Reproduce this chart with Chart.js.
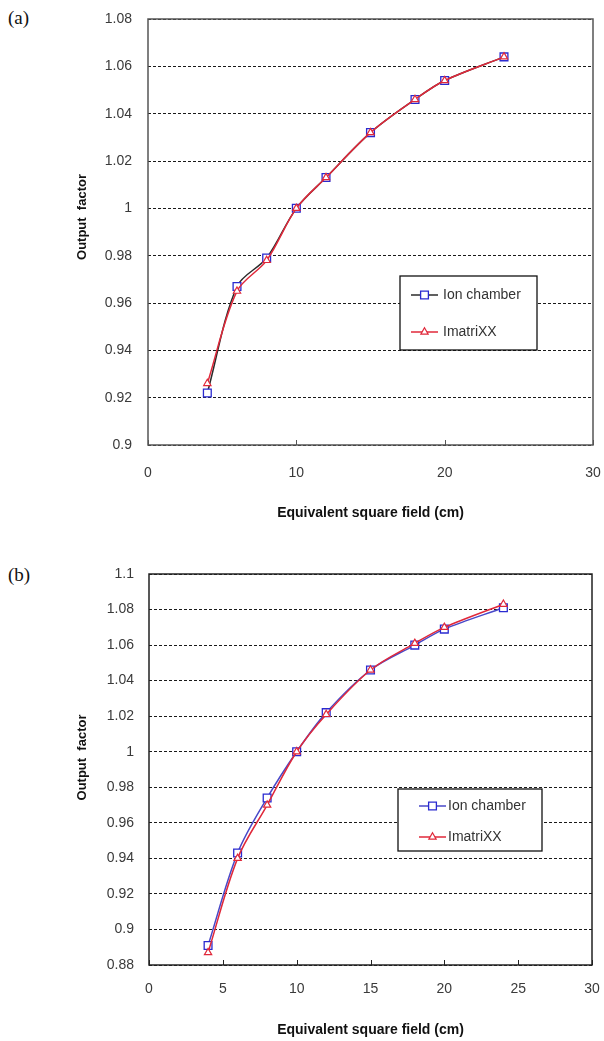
<!DOCTYPE html>
<html>
<head>
<meta charset="utf-8">
<script src="https://cdn.jsdelivr.net/npm/chart.js@4"></script>
<style>
  html, body { margin: 0; padding: 0; background: #fff; }
  body { width: 604px; height: 1041px; position: relative; overflow: hidden; }
  canvas { position: absolute; left: 0; }
  .panel { position: absolute; font-family: "Liberation Serif", "Times New Roman", serif; font-size: 19px; color: #111; }
</style>
</head>
<body>
<div class="panel" style="left:8px; top:7px;">(a)</div>
<div class="panel" style="left:8px; top:564px;">(b)</div>
<canvas id="chartA" width="604" height="540" style="top:0px;width:604px;height:540px;"></canvas>
<canvas id="chartB" width="604" height="496" style="top:545px;width:604px;height:496px;"></canvas>
<script>
// ---- data (a) ----
const fieldA = [4, 6, 8, 10, 12, 15, 18, 20, 24];
const ionChamberA = [0.922, 0.967, 0.979, 1.000, 1.013, 1.032, 1.046, 1.054, 1.064];
const imatrixxA   = [0.926, 0.965, 0.978, 1.000, 1.013, 1.032, 1.046, 1.054, 1.064];
const yTicksA = [0.9, 0.92, 0.94, 0.96, 0.98, 1, 1.02, 1.04, 1.06, 1.08];
const yLabelsA = ['0.9', '0.92', '0.94', '0.96', '0.98', '1', '1.02', '1.04', '1.06', '1.08'];
const xTicksA = [0, 10, 20, 30];

// ---- data (b) ----
const fieldB = [4, 6, 8, 10, 12, 15, 18, 20, 24];
const ionChamberB = [0.891, 0.943, 0.974, 1.000, 1.022, 1.046, 1.060, 1.069, 1.081];
const imatrixxB   = [0.887, 0.940, 0.970, 1.000, 1.021, 1.046, 1.061, 1.070, 1.083];
const yTicksB = [0.88, 0.9, 0.92, 0.94, 0.96, 0.98, 1, 1.02, 1.04, 1.06, 1.08, 1.1];
const yLabelsB = ['0.88', '0.9', '0.92', '0.94', '0.96', '0.98', '1', '1.02', '1.04', '1.06', '1.08', '1.1'];
const xTicksB = [0, 5, 10, 15, 20, 25, 30];

const seriesNames = ['Ion chamber', 'ImatriXX'];
const xTitle = 'Equivalent square field (cm)';
const yTitle = 'Output  factor';

const FONT = '"Liberation Sans", Arial, sans-serif';

function pts(xs, ys) { return xs.map((x, i) => ({ x: x, y: ys[i] })); }

// frame, inward ticks, y title and legend
const decorPlugin = {
  id: 'decor',
  afterDraw(chart, args, opts) {
    const ctx = chart.ctx;
    const a = chart.chartArea;
    const xs = chart.scales.x;
    ctx.save();
    // inward tick marks on the x axis
    ctx.strokeStyle = opts.frameColor;
    ctx.lineWidth = 1;
    xs.ticks.forEach(t => {
      const px = Math.round(xs.getPixelForValue(t.value)) + 0.5;
      ctx.beginPath();
      ctx.moveTo(px, a.bottom);
      ctx.lineTo(px, a.bottom - 5);
      ctx.stroke();
    });
    // frame
    ctx.lineWidth = 1.5;
    ctx.strokeRect(a.left, a.top, a.right - a.left, a.bottom - a.top);
    // y axis title
    ctx.save();
    ctx.translate(opts.yTitleX, (a.top + a.bottom) / 2 + opts.yTitleShift);
    ctx.rotate(-Math.PI / 2);
    ctx.font = 'bold 13px ' + FONT;
    ctx.fillStyle = '#111';
    ctx.textAlign = 'center';
    ctx.textBaseline = 'middle';
    ctx.fillText(yTitle, 0, 0);
    ctx.restore();
    // legend
    const L = opts.legend;
    ctx.fillStyle = '#fff';
    ctx.fillRect(L.x, L.y, L.w, L.h);
    ctx.strokeStyle = '#111';
    ctx.lineWidth = 1.3;
    ctx.strokeRect(L.x, L.y, L.w, L.h);
    ctx.font = '14px ' + FONT;
    ctx.textBaseline = 'middle';
    ctx.textAlign = 'left';
    chart.data.datasets.forEach((ds, i) => {
      const yy = L.rows[i];
      ctx.strokeStyle = ds.borderColor;
      ctx.lineWidth = 1.5;
      ctx.beginPath();
      ctx.moveTo(L.lineX0, yy);
      ctx.lineTo(L.lineX1, yy);
      ctx.stroke();
      ctx.fillStyle = ds.pointBackgroundColor;
      ctx.strokeStyle = ds.pointBorderColor;
      ctx.lineWidth = ds.pointBorderWidth;
      Chart.helpers.drawPoint(ctx, {
        pointStyle: ds.pointStyle, rotation: 0,
        radius: ds.pointRadius, borderWidth: ds.pointBorderWidth
      }, (L.lineX0 + L.lineX1) / 2, yy);
      ctx.fillStyle = '#333';
      ctx.fillText(ds.label, L.textX, yy);
    });
    ctx.restore();
  }
};

function makeChart(id, cfg) {
  return new Chart(document.getElementById(id), {
    type: 'line',
    data: {
      datasets: [
        {
          label: seriesNames[0],
          data: pts(cfg.field, cfg.ion),
          borderColor: cfg.ionLine,
          borderWidth: 1.5,
          tension: 0.33,
          pointStyle: 'rect',
          pointRadius: 5.5,
          pointBackgroundColor: '#fff',
          pointBorderColor: '#2a2ad0',
          pointBorderWidth: 1.3,
          order: 2
        },
        {
          label: seriesNames[1],
          data: pts(cfg.field, cfg.ima),
          borderColor: '#e0283a',
          borderWidth: 1.5,
          tension: 0.33,
          pointStyle: 'triangle',
          pointRadius: 4.2,
          pointBackgroundColor: '#fff',
          pointBorderColor: '#e0283a',
          pointBorderWidth: 1.2,
          order: 1
        }
      ]
    },
    options: {
      responsive: false,
      animation: false,
      devicePixelRatio: 1,
      layout: { padding: cfg.padding },
      plugins: {
        legend: { display: false },
        tooltip: { enabled: false },
        decor: { frameColor: cfg.frameColor, legend: cfg.legend, yTitleX: 82, yTitleShift: cfg.yTitleShift }
      },
      scales: {
        x: {
          type: 'linear',
          min: cfg.xTicks[0],
          max: cfg.xTicks[cfg.xTicks.length - 1],
          afterBuildTicks: s => { s.ticks = cfg.xTicks.map(v => ({ value: v })); },
          afterFit: s => { s.height = cfg.xAxisH; s.paddingLeft = 0; s.paddingRight = 0; },
          grid: { display: false, drawTicks: false },
          border: { display: false },
          ticks: {
            padding: cfg.xTickPad,
            color: '#3a3a3a',
            font: { family: FONT, size: 14 },
            maxRotation: 0,
            autoSkip: false,
            callback: v => String(v)
          },
          title: {
            display: true,
            text: xTitle,
            color: '#111',
            font: { family: FONT, size: 14, weight: 'bold' },
            padding: { top: 0, bottom: cfg.xTitlePad }
          }
        },
        y: {
          type: 'linear',
          min: cfg.yTicks[0],
          max: cfg.yTicks[cfg.yTicks.length - 1],
          afterBuildTicks: s => { s.ticks = cfg.yTicks.map(v => ({ value: v })); },
          afterFit: s => { s.width = cfg.yAxisW; s.paddingTop = 0; s.paddingBottom = 0; },
          grid: { color: '#1a1a1a', lineWidth: 1, drawTicks: false },
          border: { display: false, dash: [3, 2] },
          ticks: {
            padding: cfg.yTickPad,
            color: '#3a3a3a',
            font: { family: FONT, size: 14 },
            autoSkip: false,
            callback: (v, i) => cfg.yLabels[i]
          },
          title: { display: false }
        }
      }
    },
    plugins: [decorPlugin]
  });
}

makeChart('chartA', {
  field: fieldA, ion: ionChamberA, ima: imatrixxA,
  ionLine: '#2b2b2b',
  xTicks: xTicksA, yTicks: yTicksA, yLabels: yLabelsA,
  padding: { top: 19, right: 11, left: 0, bottom: 0 },
  xAxisH: 95, yAxisW: 148, xTickPad: 20, yTickPad: 16, xTitlePad: 18.6,
  frameColor: '#555', yTitleShift: -15,
  legend: { x: 400, y: 276, w: 137, h: 74, rows: [295, 332], lineX0: 411, lineX1: 438, textX: 443 }
});

makeChart('chartB', {
  field: fieldB, ion: ionChamberB, ima: imatrixxB,
  ionLine: '#4848c8',
  xTicks: xTicksB, yTicks: yTicksB, yLabels: yLabelsB,
  padding: { top: 29, right: 12, left: 0, bottom: 0 },
  xAxisH: 76, yAxisW: 149, xTickPad: 15.6, yTickPad: 15, xTitlePad: 2.6,
  frameColor: '#222', yTitleShift: -12,
  legend: { x: 398, y: 244, w: 144, h: 62, rows: [261, 292], lineX0: 419, lineX1: 446, textX: 448 }
});
</script>
</body>
</html>
